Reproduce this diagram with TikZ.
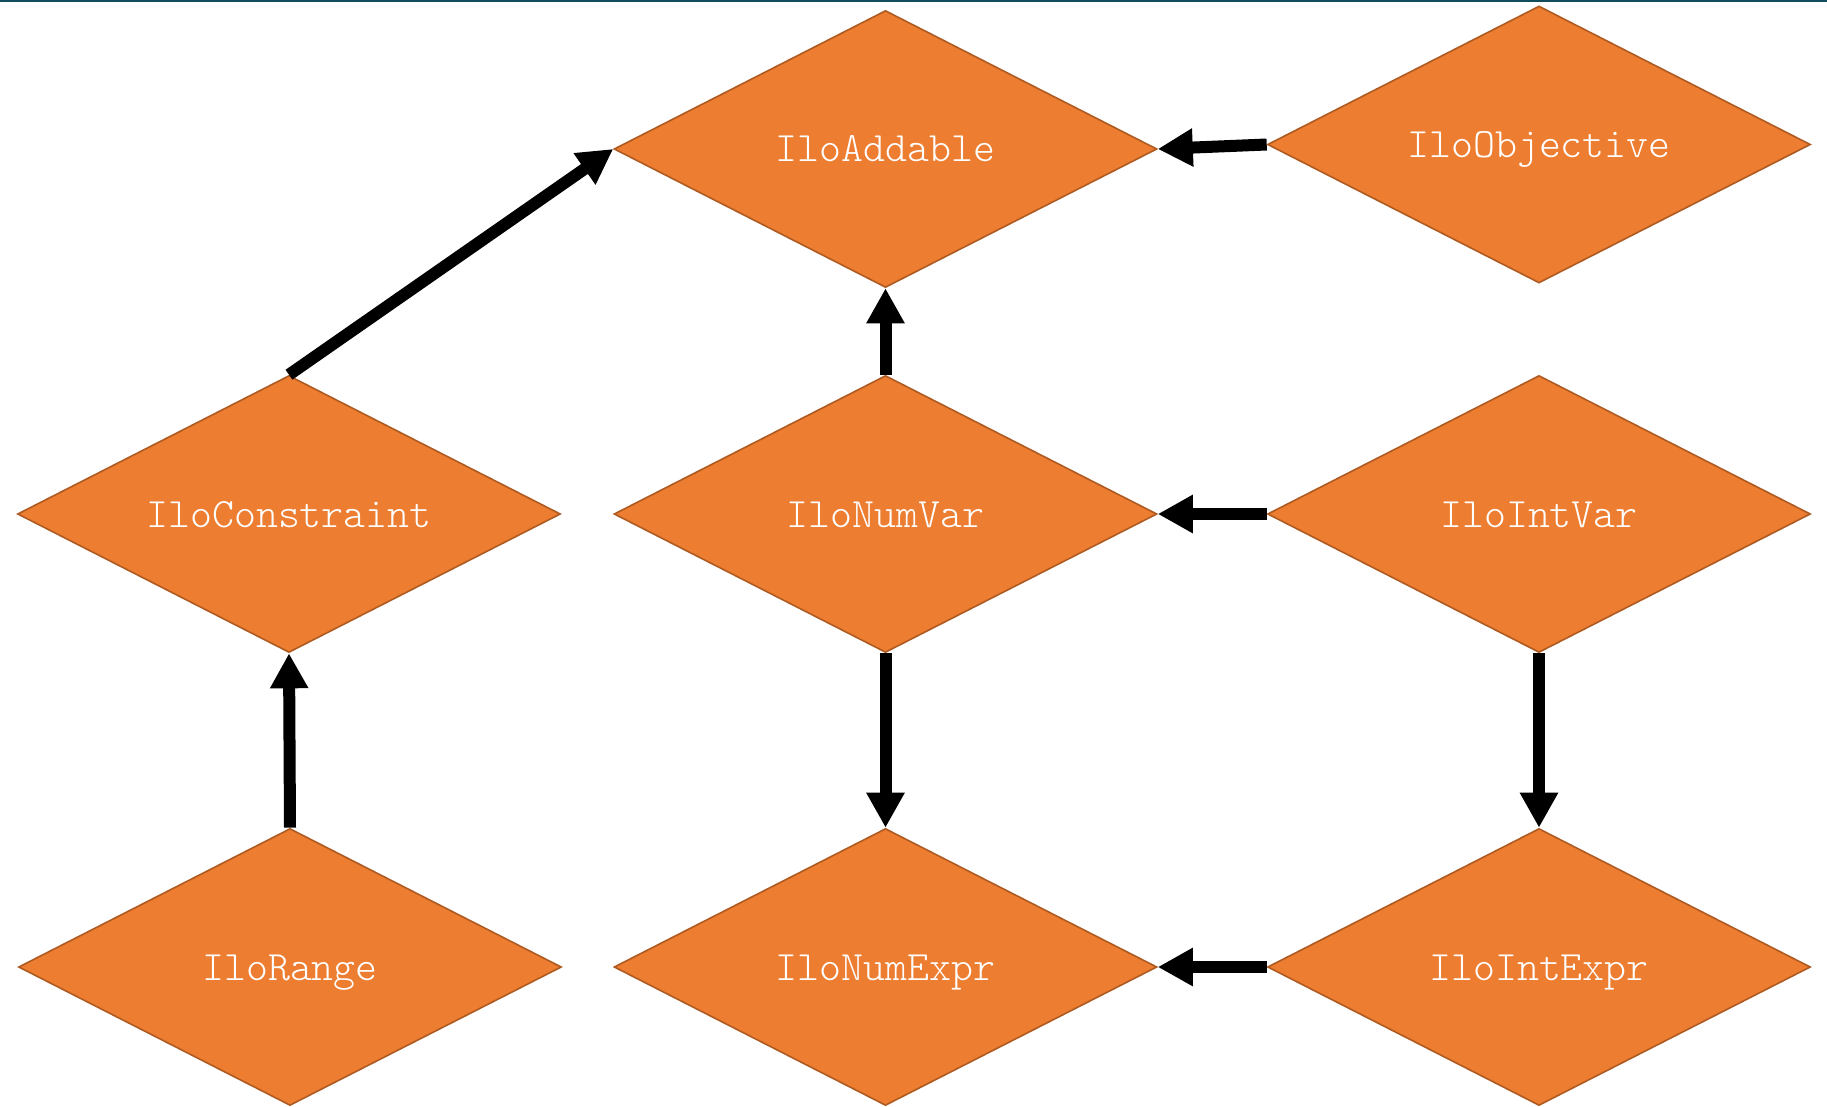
\documentclass[tikz,border=0pt]{standalone}
\usepackage{fontspec}
\setmonofont{lmmonolt10-regular.otf}
\usetikzlibrary{shapes.geometric,arrows.meta}
\definecolor{boxfill}{HTML}{ED7D31}
\definecolor{boxline}{HTML}{AE5A21}
\definecolor{topline}{HTML}{0F4C5C}

\begin{document}
\begin{tikzpicture}
	  [x=0.5pt,y=-0.5pt,
	   every node/.style={diamond,aspect=2,inner sep=0pt,
	     minimum width=271.5pt,minimum height=138.5pt,
	     fill=boxfill,draw=boxline,line width=0.8pt,text=white,
	     text height=13pt,text depth=0pt,
	     font=\ttfamily\fontsize{20.9}{24}\selectfont},
	   link/.style={line width=6pt,-{Triangle[length=17.5pt,width=18pt]}}]
	\useasboundingbox (0,0) rectangle (1827,1107);
	\draw[topline,line width=1pt] (0,1) -- (1827,1);

	\node (add)     at (885.5,149)  {IloAddable};
	\node (obj)     at (1539,144.5) {IloObjective};
	\node (cons)    at (289,514)    {IloConstraint};
	\node (numvar)  at (885.5,514)  {IloNumVar};
	\node (intvar)  at (1539,514)   {IloIntVar};
	\node (range)   at (290,967)    {IloRange};
	\node (numexpr) at (885.5,967)  {IloNumExpr};
	\node (intexpr) at (1539,967)   {IloIntExpr};

	\foreach \from/\to in {cons.north/add.west,numvar.north/add.south,
	    obj.west/add.east,intvar.west/numvar.east,numvar.south/numexpr.north,
	    intvar.south/intexpr.north,intexpr.west/numexpr.east,range.north/cons.south}
	  \draw[link] (\from) -- (\to);
	\end{tikzpicture}
\end{document}
